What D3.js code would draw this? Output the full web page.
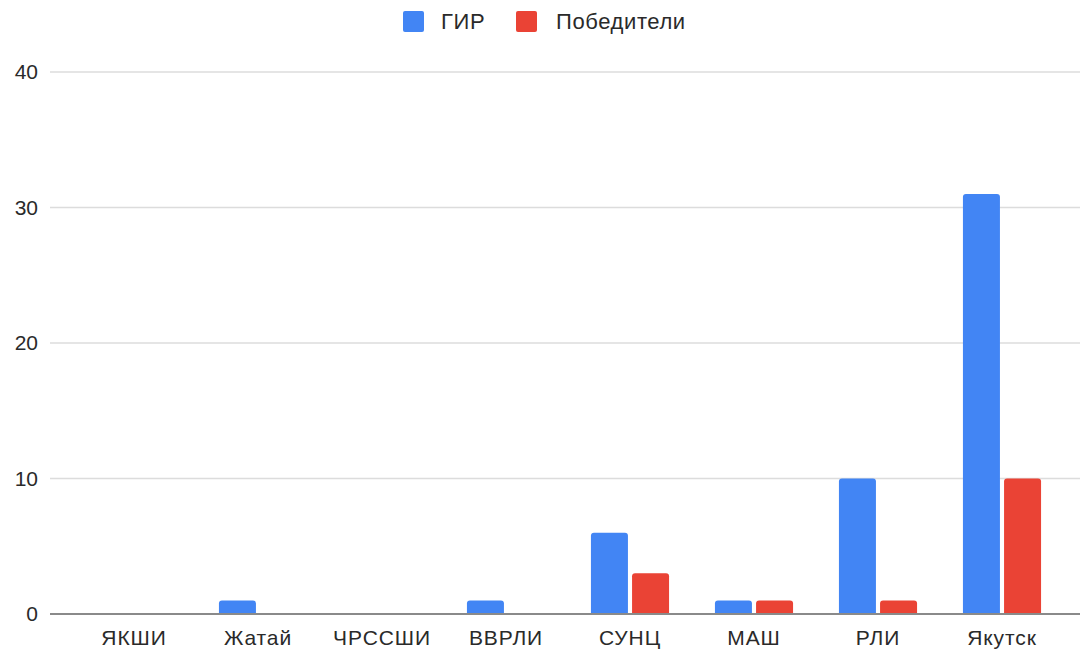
<!DOCTYPE html>
<html><head><meta charset="utf-8">
<script src="https://cdn.jsdelivr.net/npm/d3@7"></script>
<style>html,body{margin:0;padding:0;background:#fff;}svg{display:block;}</style>
</head><body>
<svg id="chart" width="1080" height="651"></svg>
<script>
const categories = ["ЯКШИ","Жатай","ЧРССШИ","ВВРЛИ","СУНЦ","МАШ","РЛИ","Якутск"];
const seriesNames = ["ГИР","Победители"];
const girValues = [0,1,0,1,6,1,10,31];
const winnerValues = [0,0,0,0,3,1,1,10];
const yTicks = [0,10,20,30,40];
const colors = ["#4285F4","#EA4335"];

const svg = d3.select("#chart");
const font = "'Liberation Sans', Arial, Helvetica, sans-serif";

const x0 = d3.scaleBand().domain(categories).range([72,1064]).paddingInner(0.37).paddingOuter(0.185);
const x1 = d3.scaleBand().domain(seriesNames).range([0, x0.bandwidth()]).paddingInner(0.1);
const y = d3.scaleLinear().domain([0,40]).range([614,72]);

// gridlines
svg.append("g").selectAll("line").data(yTicks.filter(t=>t!==0)).join("line")
  .attr("x1",50).attr("x2",1080)
  .attr("y1",d=>y(d)).attr("y2",d=>y(d))
  .attr("stroke","#dcdcdc").attr("stroke-width",1.5);

// y axis labels
const yAxis = d3.axisLeft(y).tickValues(yTicks).tickSize(0).tickPadding(0);
const yg = svg.append("g").attr("transform","translate(38,0)").call(yAxis);
yg.select(".domain").remove();
yg.selectAll("text").attr("font-family",font).attr("font-size",21).attr("fill","#2a2a2a");

// bars
const data = categories.map((c,i)=>({cat:c, vals:[girValues[i], winnerValues[i]]}));
const r = 3;
function barPath(x, w, y0, y1){
  const h = y0 - y1;
  const rr = Math.min(r, h, w/2);
  return `M${x},${y0}V${y1+rr}Q${x},${y1} ${x+rr},${y1}H${x+w-rr}Q${x+w},${y1} ${x+w},${y1+rr}V${y0}Z`;
}
const groups = svg.append("g").selectAll("g").data(data).join("g")
  .attr("transform",d=>`translate(${x0(d.cat)},0)`);
groups.selectAll("path").data(d=>d.vals.map((v,i)=>({s:seriesNames[i], v, i})).filter(d=>d.v>0)).join("path")
  .attr("d",d=>barPath(x1(d.s), x1.bandwidth(), y(0), y(d.v)))
  .attr("fill",d=>colors[d.i]);

// baseline
svg.append("line").attr("x1",50).attr("x2",1080).attr("y1",y(0)).attr("y2",y(0))
  .attr("stroke","#8a8a8a").attr("stroke-width",2);

// x axis labels
const xAxis = d3.axisBottom(x0).tickSize(0).tickPadding(0);
const xg = svg.append("g").attr("transform",`translate(0,${y(0)+16})`).call(xAxis);
xg.select(".domain").remove();
xg.selectAll("text").attr("font-family",font).attr("font-size",21).attr("letter-spacing","0.9px").attr("fill","#2a2a2a");

// legend
const legend = svg.append("g");
const legendItems = [{name:seriesNames[0], x:403, tx:441},{name:seriesNames[1], x:516, tx:556}];
legendItems.forEach((it,i)=>{
  legend.append("rect").attr("x",it.x).attr("y",11).attr("width",21).attr("height",21).attr("rx",2)
    .attr("fill",colors[i]);
  legend.append("text").attr("x",it.tx).attr("y",29).text(it.name)
    .attr("font-family",font).attr("font-size",22).attr("letter-spacing","0.6px").attr("fill","#2a2a2a");
});
</script>
</body></html>
